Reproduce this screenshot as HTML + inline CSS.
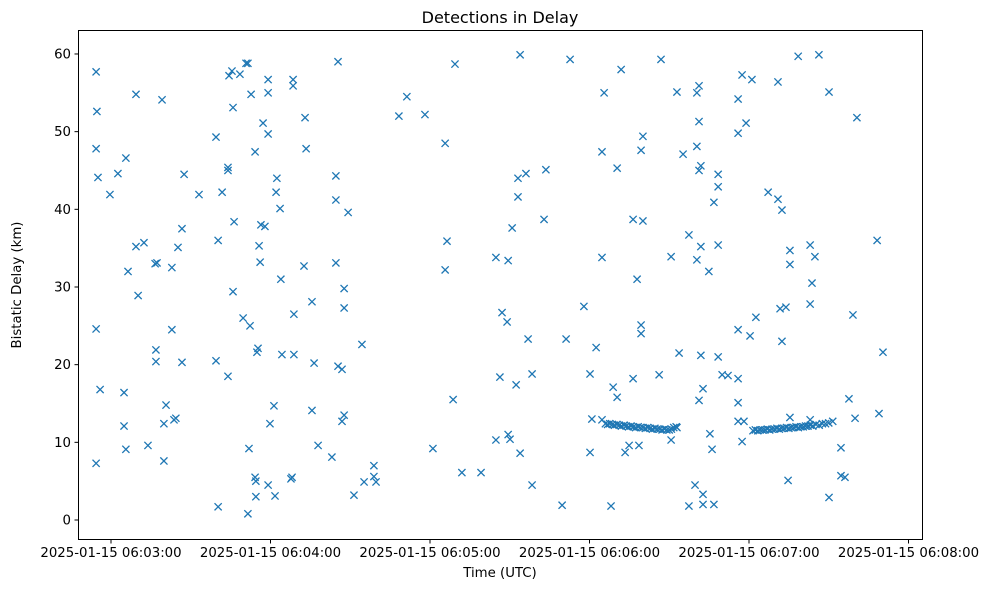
<!DOCTYPE html>
<html><head><meta charset="utf-8"><style>
body{margin:0;background:#fff;}
svg{display:block;font-family:"DejaVu Sans","Liberation Sans",sans-serif;}
</style></head><body>
<svg id="chart" width="988" height="590" xmlns="http://www.w3.org/2000/svg">
<rect width="988" height="590" fill="#fff"/>
<text x="500" y="23" font-size="16" text-anchor="middle">Detections in Delay</text>
<text x="500" y="577" font-size="13.3" text-anchor="middle">Time (UTC)</text>
<text x="21" y="285" font-size="13.3" text-anchor="middle" transform="rotate(-90 21 285)">Bistatic Delay (km)</text>
<g id="marks"></g>
<g id="axes"></g>
<rect x="78.5" y="30.5" width="844" height="509" fill="none" stroke="#000" stroke-width="1"/>
</svg>
<script>
// times: seconds after 06:02:00 UTC; delays in km
const times = [54.4,54.7,54.4,55.1,54.4,55.9,54.4,59.6,62.6,65.6,66.4,64.9,64.9,65.6,69.4,69.4,70.2,72.4,73.9,77.3,76.6,76.9,76.9,79.2,80.7,79.9,79.9,82.9,82.9,83.7,84.4,85.2,86.7,86.7,87.5,93.1,99.5,100.3,99.5,100.3,101.8,104.0,104.0,104.0,104.4,105.5,105.9,106.3,105.9,108.5,109.7,110.8,111.5,112.3,112.7,111.9,111.5,114.2,114.2,114.5,114.5,114.9,115.3,115.7,116.1,116.4,117.2,117.9,119.1,119.1,119.1,119.1,119.8,121.3,121.7,122.1,122.4,123.6,123.9,124.3,127.7,128.1,128.5,128.5,128.8,128.8,
132.6,133.0,133.4,135.6,135.6,136.4,137.9,143.1,144.6,144.6,145.4,144.6,145.4,146.9,147.7,147.7,146.9,147.7,149.2,151.4,154.4,155.2,158.9,158.9,159.7,168.3,171.3,178.1,181.1,185.7,185.7,186.4,188.7,189.4,192.0,199.2,204.8,206.3,204.8,207.1,209.0,209.4,209.4,210.1,210.9,
213.9,232.7,251.9,266.9,245.5,272.9,281.2,280.4,281.2,260.1,259.4,244.7,275.2,280.4,281.9,281.2,250.4,288.4,288.4,286.8,213.1,216.1,223.6,213.1,222.9,256.4,260.1,277.4,281.9,288.4,244.7,270.7,280.4,284.9,257.9,237.9,259.4,259.4,216.9,231.2,242.5,273.7,281.9,288.4,212.4,218.4,240.2,256.4,266.2,248.9,250.4,282.7,281.2,240.9,244.7,270.7,272.9,213.9,240.2,253.4,254.9,258.6,285.3,286.1,218.4,229.7,248.1,279.7,282.7,277.4,282.7,286.8,
318.5,326.3,297.4,301.1,310.9,330.1,295.9,298.9,295.9,340.6,307.2,310.9,312.4,315.4,323.0,324.8,315.4,348.2,323.7,323.0,311.7,313.9,302.6,339.1,295.9,300.4,312.4,350.4,289.9,292.1,295.9,295.9,337.6,295.9,298.1,315.4,323.0,339.9,348.9,297.4,334.6,314.7,334.6,336.1,330.1];
const delays = [57.7,52.6,47.8,44.1,24.6,16.8,7.3,41.9,44.6,46.6,32.0,16.4,12.1,9.1,54.8,35.2,28.9,35.7,9.6,33.1,33.0,21.9,20.4,54.1,14.8,12.4,7.6,32.5,24.5,12.9,13.1,35.1,37.5,20.3,44.5,41.9,49.3,36.0,20.5,1.7,42.2,45.0,45.4,18.5,57.2,57.8,53.1,38.4,29.4,57.4,26.0,58.8,58.8,25.0,54.8,9.2,0.8,47.4,5.5,5.0,3.0,21.6,22.1,35.3,33.2,38.0,51.1,37.8,56.7,55.0,49.7,4.5,12.4,14.7,3.1,42.2,44.0,40.1,31.0,21.3,5.3,5.5,56.7,55.9,26.5,21.3,
32.7,51.8,47.8,28.1,14.1,20.2,9.6,8.1,41.2,33.1,59.0,44.3,19.8,19.4,29.8,27.3,12.7,13.5,39.6,3.2,22.6,4.9,7.0,5.6,4.9,52.0,54.5,52.2,9.2,48.5,32.2,35.9,15.5,58.7,6.1,6.1,33.8,18.4,10.3,26.7,25.5,33.4,11.0,10.4,37.6,
59.9,59.3,58.0,59.3,55.0,55.1,55.9,55.0,51.3,49.4,47.6,47.4,47.1,48.1,45.6,45.0,45.3,44.5,42.9,40.9,44.0,44.6,45.1,41.6,38.7,38.7,38.5,36.7,35.2,35.4,33.8,33.9,33.5,32.0,31.0,27.5,25.1,24.0,23.3,23.3,22.2,21.5,21.2,21.0,17.4,18.8,18.8,18.2,18.7,17.1,15.8,16.9,15.4,13.0,12.9,10.3,11.9,8.6,8.7,8.7,9.6,9.6,11.1,9.1,4.5,1.9,1.8,4.5,3.3,1.8,2.0,2.0,
59.7,59.9,57.3,56.7,56.4,55.1,54.2,51.1,49.8,51.8,42.2,41.3,39.9,34.7,35.4,33.9,32.9,36.0,30.5,27.8,27.2,27.4,26.1,26.4,24.5,23.7,23.0,21.6,18.7,18.6,18.2,15.1,15.6,12.7,12.7,13.2,12.9,13.1,13.7,10.1,9.3,5.1,5.7,5.5,2.9];
// track 1 and track 2 detections
const track1Times = [246.0,246.8,247.6,248.6,249.4,250.3,251.2,252.0,253.0,253.8,254.7,255.6,256.5,257.4,258.3,259.2,260.1,261.0,261.9,262.8,263.7,264.6,265.5,266.4,267.3,268.2,269.1,270.0,270.8,271.7,272.6];
const track1Delays = [12.4,12.3,12.4,12.3,12.2,12.3,12.2,12.1,12.2,12.1,12.0,12.1,12.0,11.9,12.0,11.9,11.9,11.8,11.9,11.8,11.7,11.8,11.7,11.7,11.6,11.7,11.6,11.6,11.7,11.9,12.0];
const track2Times = [301.5,302.4,303.3,304.2,305.1,306.0,306.9,307.8,308.7,309.6,310.5,311.4,312.3,313.2,314.1,315.0,315.9,316.8,317.7,318.6,319.5,320.4,321.3,322.2,323.1,324.0,325.2,326.4,327.6,328.8,330.0,331.5];
const track2Delays = [11.5,11.6,11.5,11.6,11.6,11.6,11.7,11.6,11.7,11.7,11.8,11.7,11.8,11.8,11.9,11.8,11.9,11.9,12.0,11.9,12.0,12.0,12.1,12.1,12.2,12.1,12.3,12.2,12.4,12.4,12.5,12.7];
const xTickValues = [60,120,180,240,300,360];
const xTickLabels = ["2025-01-15 06:03:00","2025-01-15 06:04:00","2025-01-15 06:05:00","2025-01-15 06:06:00","2025-01-15 06:07:00","2025-01-15 06:08:00"];
const yTickValues = [0,10,20,30,40,50,60];

const NS = "http://www.w3.org/2000/svg";
function xScale(s){ return 111 + (s - 60) * 2.6583; }
function yScale(k){ return 520 - k * 7.767; }
const marks = document.getElementById('marks');
const axes = document.getElementById('axes');
function mk(tag, attrs, parent){ const e=document.createElementNS(NS,tag); for(const k in attrs) e.setAttribute(k,attrs[k]); parent.appendChild(e); return e; }
function drawPoint(t,d){
  const cx=xScale(t), cy=yScale(d), r=3.6;
  const p = mk('path',{d:`M${cx-r},${cy-r}L${cx+r},${cy+r}M${cx-r},${cy+r}L${cx+r},${cy-r}`,stroke:'#1f77b4','stroke-width':1.3,fill:'none'},marks);
  
  
}
times.forEach((t,i)=>drawPoint(t,delays[i]));
track1Times.forEach((t,i)=>drawPoint(t,track1Delays[i]));
track2Times.forEach((t,i)=>drawPoint(t,track2Delays[i]));
xTickValues.forEach((v,i)=>{
  const x=xScale(v);
  const l = mk('line',{x1:x,x2:x,y1:539.5,y2:543.5,stroke:'#000'},axes);
  
  
  const tx = mk('text',{x:x,y:557,'font-size':13.3,'text-anchor':'middle'},axes);
  tx.textContent = xTickLabels[i];
  
  
});
yTickValues.forEach(v=>{
  const y=yScale(v);
  const l = mk('line',{x1:74.5,x2:78.5,y1:y,y2:y,stroke:'#000'},axes);
  
  
  const tx = mk('text',{x:71,y:y+4.5,'font-size':13.3,'text-anchor':'end'},axes);
  tx.textContent = String(v);
  
  
});
</script>
</body></html>
